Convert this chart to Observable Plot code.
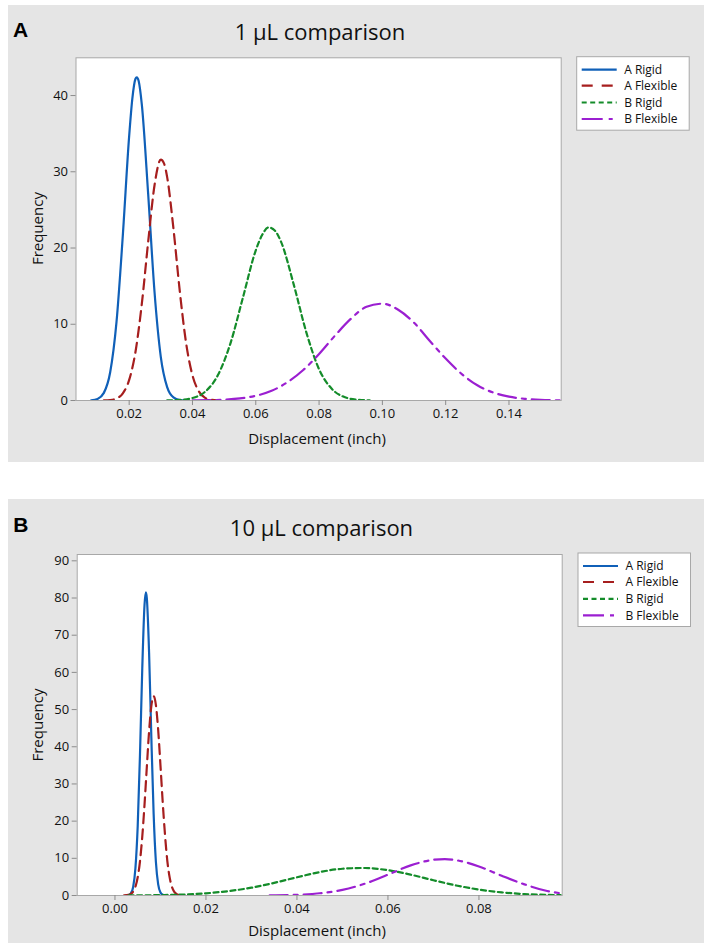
<!DOCTYPE html>
<html>
<head>
<meta charset="utf-8">
<script src="https://cdn.jsdelivr.net/npm/d3@7"></script>
<script src="https://cdn.jsdelivr.net/npm/@observablehq/plot@0.6"></script>
<style>
  html, body { margin: 0; padding: 0; background: #ffffff; }
  body { width: 704px; height: 943px; position: relative; overflow: hidden; }
  .panel { position: absolute; background: #e5e5e5; overflow: hidden; }
  .panel svg { position: absolute; left: 0; top: 0; }
</style>
</head>
<body>
<div id="panelA" class="panel" style="left:8px; top:5px; width:696px; height:457px;"></div>
<div id="panelB" class="panel" style="left:8px; top:499px; width:696px; height:444px;"></div>
<script>
// ---------- Series / legend ----------
const seriesNames = ["A Rigid", "A Flexible", "B Rigid", "B Flexible"];

// ---------- Panel A : 1 µL comparison ----------
const titleA = "1 µL comparison";
const letterA = "A";
const xTicksA = [0.02, 0.04, 0.06, 0.08, 0.10, 0.12, 0.14];
const yTicksA = [0, 10, 20, 30, 40];
const xDomainA = [0.0032, 0.1565];
const yDomainA = [0, 44.95];

const aRigidA_x = [0.008, 0.010, 0.012, 0.014, 0.016, 0.018, 0.020, 0.021, 0.022, 0.0224, 0.023, 0.024, 0.026, 0.028, 0.030, 0.032, 0.034, 0.036, 0.038];
const aRigidA_y = [0.03, 0.21, 1.0, 3.7, 10.3, 21.7, 34.7, 39.6, 42.2, 42.4, 41.9, 38.8, 27.1, 14.3, 5.7, 1.75, 0.40, 0.07, 0];

const aFlexA_x = [0.012, 0.014, 0.016, 0.018, 0.020, 0.022, 0.024, 0.026, 0.028, 0.030, 0.031, 0.032, 0.034, 0.036, 0.038, 0.040, 0.042, 0.044, 0.046, 0.048];
const aFlexA_y = [0.01, 0.06, 0.27, 0.94, 2.7, 6.4, 12.7, 20.8, 28.2, 31.6, 31.1, 29.3, 22.5, 14.3, 7.5, 3.3, 1.2, 0.35, 0.09, 0.02];

const bRigidA_x = [0.032, 0.036, 0.040, 0.044, 0.048, 0.052, 0.056, 0.060, 0.062, 0.064, 0.066, 0.068, 0.072, 0.076, 0.080, 0.084, 0.088, 0.092, 0.096];
const bRigidA_y = [0.01, 0.07, 0.32, 1.15, 3.3, 7.5, 13.6, 19.7, 21.7, 22.7, 22.3, 20.8, 15.2, 8.9, 4.1, 1.54, 0.45, 0.11, 0.02];

const bFlexA_x = [0.040, 0.045, 0.050, 0.055, 0.060, 0.065, 0.070, 0.075, 0.080, 0.085, 0.090, 0.095, 0.100, 0.105, 0.110, 0.115, 0.120, 0.125, 0.130, 0.135, 0.140, 0.145, 0.150, 0.1565];
const bFlexA_y = [0.01, 0.04, 0.11, 0.28, 0.62, 1.27, 2.4, 4.0, 6.1, 8.5, 10.7, 12.3, 12.7, 11.9, 10.2, 7.8, 5.5, 3.5, 2.0, 1.05, 0.5, 0.22, 0.08, 0.02];

// ---------- Panel B : 10 µL comparison ----------
const titleB = "10 µL comparison";
const letterB = "B";
const xTicksB = [0.00, 0.02, 0.04, 0.06, 0.08];
const yTicksB = [0, 10, 20, 30, 40, 50, 60, 70, 80, 90];
const xDomainB = [-0.0083, 0.0983];
const yDomainB = [0, 91.7];

const aRigidB_x = [0.0025, 0.0030, 0.0035, 0.0040, 0.0045, 0.0050, 0.0055, 0.0060, 0.0065, 0.0068, 0.0070, 0.0075, 0.0080, 0.0085, 0.0090, 0.0095, 0.0100, 0.0105, 0.0110];
const aRigidB_y = [0.02, 0.12, 0.58, 2.3, 7.4, 18.7, 37.9, 61.0, 78.2, 81.5, 80.0, 65.3, 42.4, 22.0, 9.0, 3.0, 0.79, 0.17, 0.03];

const aFlexB_x = [0.0020, 0.0030, 0.0035, 0.0040, 0.0045, 0.0050, 0.0055, 0.0060, 0.0065, 0.0070, 0.0075, 0.0080, 0.0085, 0.0090, 0.0095, 0.0100, 0.0105, 0.0110, 0.0115, 0.0120, 0.0125, 0.0130, 0.0135, 0.0140, 0.0150];
const aFlexB_y = [0.01, 0.15, 0.41, 1.02, 2.35, 4.9, 9.2, 15.8, 24.5, 34.5, 44.1, 51.0, 53.6, 51.2, 44.5, 35.0, 25.0, 16.3, 9.4, 5.0, 2.4, 1.05, 0.42, 0.15, 0.01];

const bRigidB_x = [0.003, 0.010, 0.015, 0.020, 0.025, 0.030, 0.035, 0.040, 0.045, 0.050, 0.055, 0.060, 0.065, 0.070, 0.075, 0.080, 0.085, 0.090, 0.095, 0.098];
const bRigidB_y = [0.03, 0.11, 0.26, 0.59, 1.19, 2.1, 3.4, 4.9, 6.3, 7.2, 7.4, 6.8, 5.6, 4.1, 2.7, 1.6, 0.84, 0.39, 0.17, 0.10];

const bFlexB_x = [0.034, 0.040, 0.045, 0.050, 0.055, 0.060, 0.065, 0.070, 0.0725, 0.075, 0.080, 0.085, 0.090, 0.095, 0.098];
const bFlexB_y = [0.04, 0.19, 0.6, 1.5, 3.2, 5.6, 8.1, 9.6, 9.8, 9.5, 7.8, 5.3, 3.0, 1.2, 0.6];

// ---------- Styles ----------
const seriesStyle = [
  { color: "#1060b8", dash: null, legendDash: null },
  { color: "#a61e1e", dash: "10,6", legendDash: "11,9" },
  { color: "#148c2a", dash: "5,3.5", legendDash: "5,3.5" },
  { color: "#9b1fd1", dash: "18,6,4,6", legendDash: "21,6,4,6" }
];
const FONT = "'Open Sans', 'Liberation Sans', Arial, sans-serif";

function toRows(xs, ys) { return xs.map((x, i) => ({ x, y: ys[i] })); }

function makePanel(cfg) {
  const series = cfg.series.map(([xs, ys]) => toRows(xs, ys));
  const svg = Plot.plot({
    width: cfg.w, height: cfg.h,
    marginLeft: cfg.ml, marginRight: cfg.mr, marginTop: cfg.mt, marginBottom: cfg.mb,
    style: { background: "transparent", fontFamily: FONT, fontSize: "13px", color: "#111", overflow: "visible" },
    x: { domain: cfg.xDomain },
    y: { domain: cfg.yDomain },
    marks: [
      Plot.frame({ fill: "white", stroke: "#a8a8a8" }),
      Plot.axisX({ ticks: cfg.xTicks, tickFormat: d3.format(".2f"), tickSize: 5, tickPadding: 3, stroke: "#8c8c8c", fill: "#111", label: null }),
      Plot.axisY({ ticks: cfg.yTicks, tickFormat: d3.format("d"), tickSize: 5, tickPadding: 3, stroke: "#8c8c8c", fill: "#111", label: null }),
      ...series.map((rows, i) => Plot.line(rows, {
        x: "x", y: "y", curve: "monotone-x", clip: true,
        stroke: seriesStyle[i].color, strokeWidth: 2.2,
        strokeDasharray: seriesStyle[i].dash
      }))
    ]
  });
  const s = d3.select(svg);
  // panel letter
  s.append("text").attr("x", cfg.letterX).attr("y", cfg.letterY).attr("text-anchor", "start")
    .attr("font-family", "'Liberation Sans', Arial, sans-serif").attr("font-weight", "bold")
    .attr("font-size", "21px").attr("fill", "#000").text(cfg.letter);
  // title
  s.append("text").attr("x", cfg.titleX).attr("y", cfg.titleY).attr("text-anchor", "middle")
    .attr("font-family", FONT).attr("font-size", "22px").attr("fill", "#111").text(cfg.title);
  // axis labels
  s.append("text").attr("x", cfg.xlabX).attr("y", cfg.xlabY).attr("text-anchor", "middle")
    .attr("font-family", FONT).attr("font-size", "15px").attr("fill", "#111").text("Displacement (inch)");
  s.append("text").attr("transform", `translate(${cfg.ylabX},${cfg.ylabY}) rotate(-90)`)
    .attr("text-anchor", "middle").attr("dy", "0.35em")
    .attr("font-family", FONT).attr("font-size", "15px").attr("fill", "#111").text("Frequency");
  // legend
  const lg = s.append("g");
  lg.append("rect").attr("x", cfg.legX).attr("y", cfg.legY).attr("width", 112.5).attr("height", 73.5)
    .attr("fill", "white").attr("stroke", "#a8a8a8");
  const offs = [13, 29, 45.8, 62.3];
  seriesNames.forEach((name, i) => {
    const yy = cfg.legY + offs[i];
    const ln = lg.append("line").attr("x1", cfg.legX + 5).attr("x2", cfg.legX + 40)
      .attr("y1", yy).attr("y2", yy).attr("stroke", seriesStyle[i].color).attr("stroke-width", 2.2);
    if (seriesStyle[i].legendDash) ln.attr("stroke-dasharray", seriesStyle[i].legendDash);
    lg.append("text").attr("x", cfg.legX + 47.5).attr("y", yy).attr("dy", "0.35em")
      .attr("text-anchor", "start")
      .attr("font-family", FONT).attr("font-size", "12px").attr("fill", "#111").text(name);
  });
  return svg;
}

document.getElementById("panelA").appendChild(makePanel({
  w: 696, h: 457, ml: 67.5, mr: 143.3, mt: 52.3, mb: 62,
  xDomain: xDomainA, yDomain: yDomainA, xTicks: xTicksA, yTicks: yTicksA,
  series: [[aRigidA_x, aRigidA_y], [aFlexA_x, aFlexA_y], [bRigidA_x, bRigidA_y], [bFlexA_x, bFlexA_y]],
  letter: letterA, letterX: 5, letterY: 32,
  title: titleA, titleX: 312, titleY: 35,
  xlabX: 309, xlabY: 439, ylabX: 30, ylabY: 223.6,
  legX: 568.7, legY: 51.7
}));

document.getElementById("panelB").appendChild(makePanel({
  w: 696, h: 444, ml: 68.7, mr: 142.3, mt: 55, mb: 48,
  xDomain: xDomainB, yDomain: yDomainB, xTicks: xTicksB, yTicks: yTicksB,
  series: [[aRigidB_x, aRigidB_y], [aFlexB_x, aFlexB_y], [bRigidB_x, bRigidB_y], [bFlexB_x, bFlexB_y]],
  letter: letterB, letterX: 5.3, letterY: 32.7,
  title: titleB, titleX: 313.5, titleY: 37,
  xlabX: 309, xlabY: 437, ylabX: 30, ylabY: 226,
  legX: 570, legY: 54
}));
</script>
</body>
</html>
